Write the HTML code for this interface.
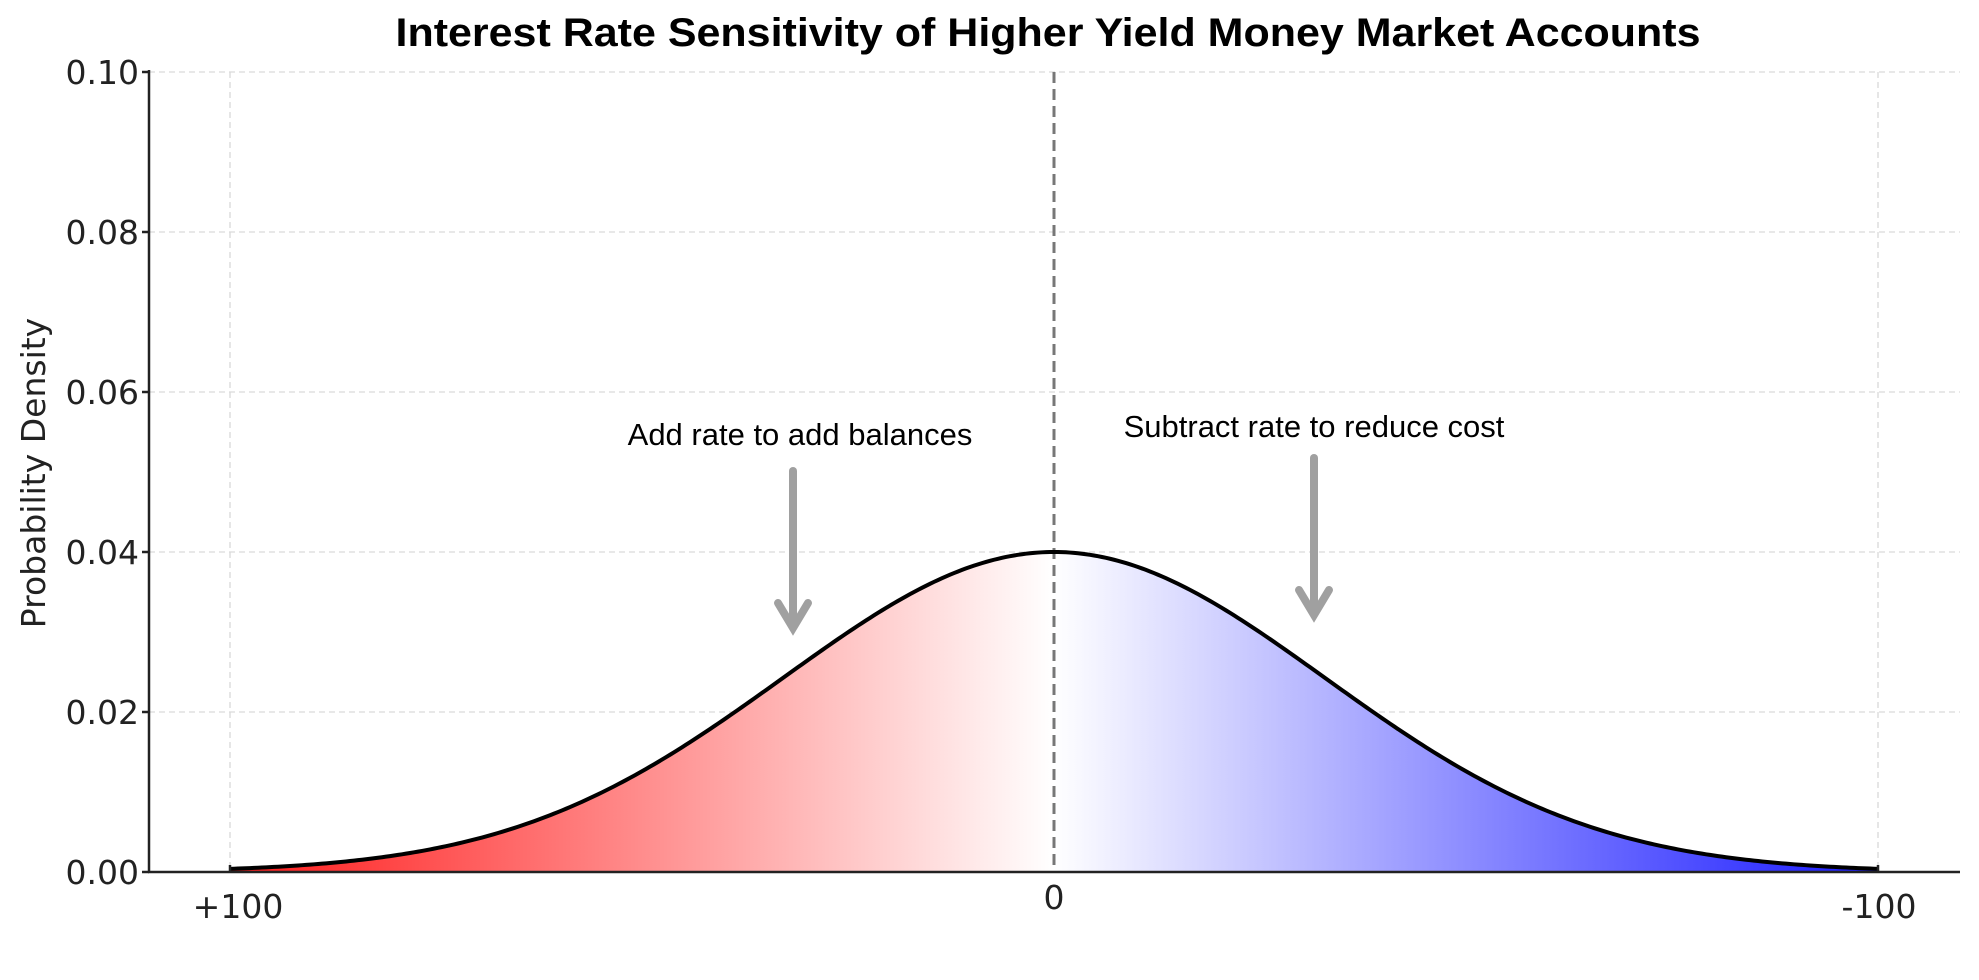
<!DOCTYPE html>
<html><head><meta charset="utf-8"><style>
html,body{margin:0;padding:0;background:#fff;}
svg{display:block;}
</style></head><body>
<svg id="s" width="1979" height="980" viewBox="0 0 1979 980" xmlns="http://www.w3.org/2000/svg">
<defs>
<linearGradient id="g" gradientUnits="userSpaceOnUse" x1="230" y1="0" x2="1878" y2="0">
<stop offset="0" stop-color="#ff1a1a"/>
<stop offset="0.5" stop-color="#ffffff"/>
<stop offset="1" stop-color="#1a1aff"/>
</linearGradient>
</defs>
<g stroke="#d9d9d9" stroke-width="1.3" stroke-dasharray="6,4">
<line x1="149" y1="72" x2="1960" y2="72"/>
<line x1="149" y1="232" x2="1960" y2="232"/>
<line x1="149" y1="392" x2="1960" y2="392"/>
<line x1="149" y1="552" x2="1960" y2="552"/>
<line x1="149" y1="712" x2="1960" y2="712"/>
<line x1="230" y1="72" x2="230" y2="872"/>
<line x1="1878" y1="72" x2="1878" y2="872"/>
</g>
<path id="fill" fill="url(#g)" d=""/>
<line x1="1054" y1="72" x2="1054" y2="872" stroke="#777" stroke-width="3" stroke-dasharray="11,6"/>
<path id="curve" fill="none" stroke="#000" stroke-width="4" d=""/>
<g stroke="#222" stroke-width="2.5">
<line x1="149" y1="70" x2="149" y2="873"/>
<line x1="148" y1="872" x2="1960" y2="872"/>
<line x1="142" y1="72" x2="149" y2="72"/>
<line x1="142" y1="232" x2="149" y2="232"/>
<line x1="142" y1="392" x2="149" y2="392"/>
<line x1="142" y1="552" x2="149" y2="552"/>
<line x1="142" y1="712" x2="149" y2="712"/>
<line x1="142" y1="872" x2="149" y2="872"/>
<line x1="230" y1="865" x2="230" y2="872"/>
<line x1="1878" y1="865" x2="1878" y2="872"/>
</g>
<g font-family="DejaVu Sans, sans-serif" font-size="33" fill="#222" text-anchor="end">
<text x="139" y="84">0.10</text>
<text x="139" y="244">0.08</text>
<text x="139" y="404">0.06</text>
<text x="139" y="564">0.04</text>
<text x="139" y="724">0.02</text>
<text x="139" y="884">0.00</text>
</g>
<g font-family="DejaVu Sans, sans-serif" font-size="33" fill="#222" text-anchor="middle">
<text x="238" y="918">+100</text>
<text x="1054" y="909">0</text>
<text x="1879" y="918">-100</text>
</g>
<text transform="translate(45,473) rotate(-90)" font-family="DejaVu Sans, sans-serif" font-size="33" fill="#222" text-anchor="middle">Probability Density</text>
<text x="1048" y="46" font-family="Liberation Sans, sans-serif" font-weight="bold" font-size="40" text-anchor="middle" textLength="1305" lengthAdjust="spacingAndGlyphs">Interest Rate Sensitivity of Higher Yield Money Market Accounts</text>
<g font-family="Liberation Sans, sans-serif" font-size="31" fill="#000" text-anchor="middle">
<text x="800" y="445">Add rate to add balances</text>
<text x="1314" y="437">Subtract rate to reduce cost</text>
</g>
<g stroke="#a0a0a0" stroke-width="8" stroke-linecap="round" fill="none">
<line x1="793" y1="471" x2="793" y2="625"/>
<polyline points="778,603 793,628 808,603"/>
<line x1="1314" y1="458" x2="1314" y2="612"/>
<polyline points="1299,590 1314,615 1329,590"/>
</g>
</svg>
<script>
(function(){
var cx=1054,sig=271,base=872,h=320,pts=[];
for(var x=230;x<=1878;x+=4){var z=(x-cx)/sig;pts.push(x.toFixed(1)+","+(base-h*Math.exp(-z*z/2)).toFixed(2));}
var d="M"+pts.join(" L");
document.getElementById('curve').setAttribute('d',d);
document.getElementById('fill').setAttribute('d',d+" L1878,872 L230,872 Z");
})();
</script>
</body></html>
